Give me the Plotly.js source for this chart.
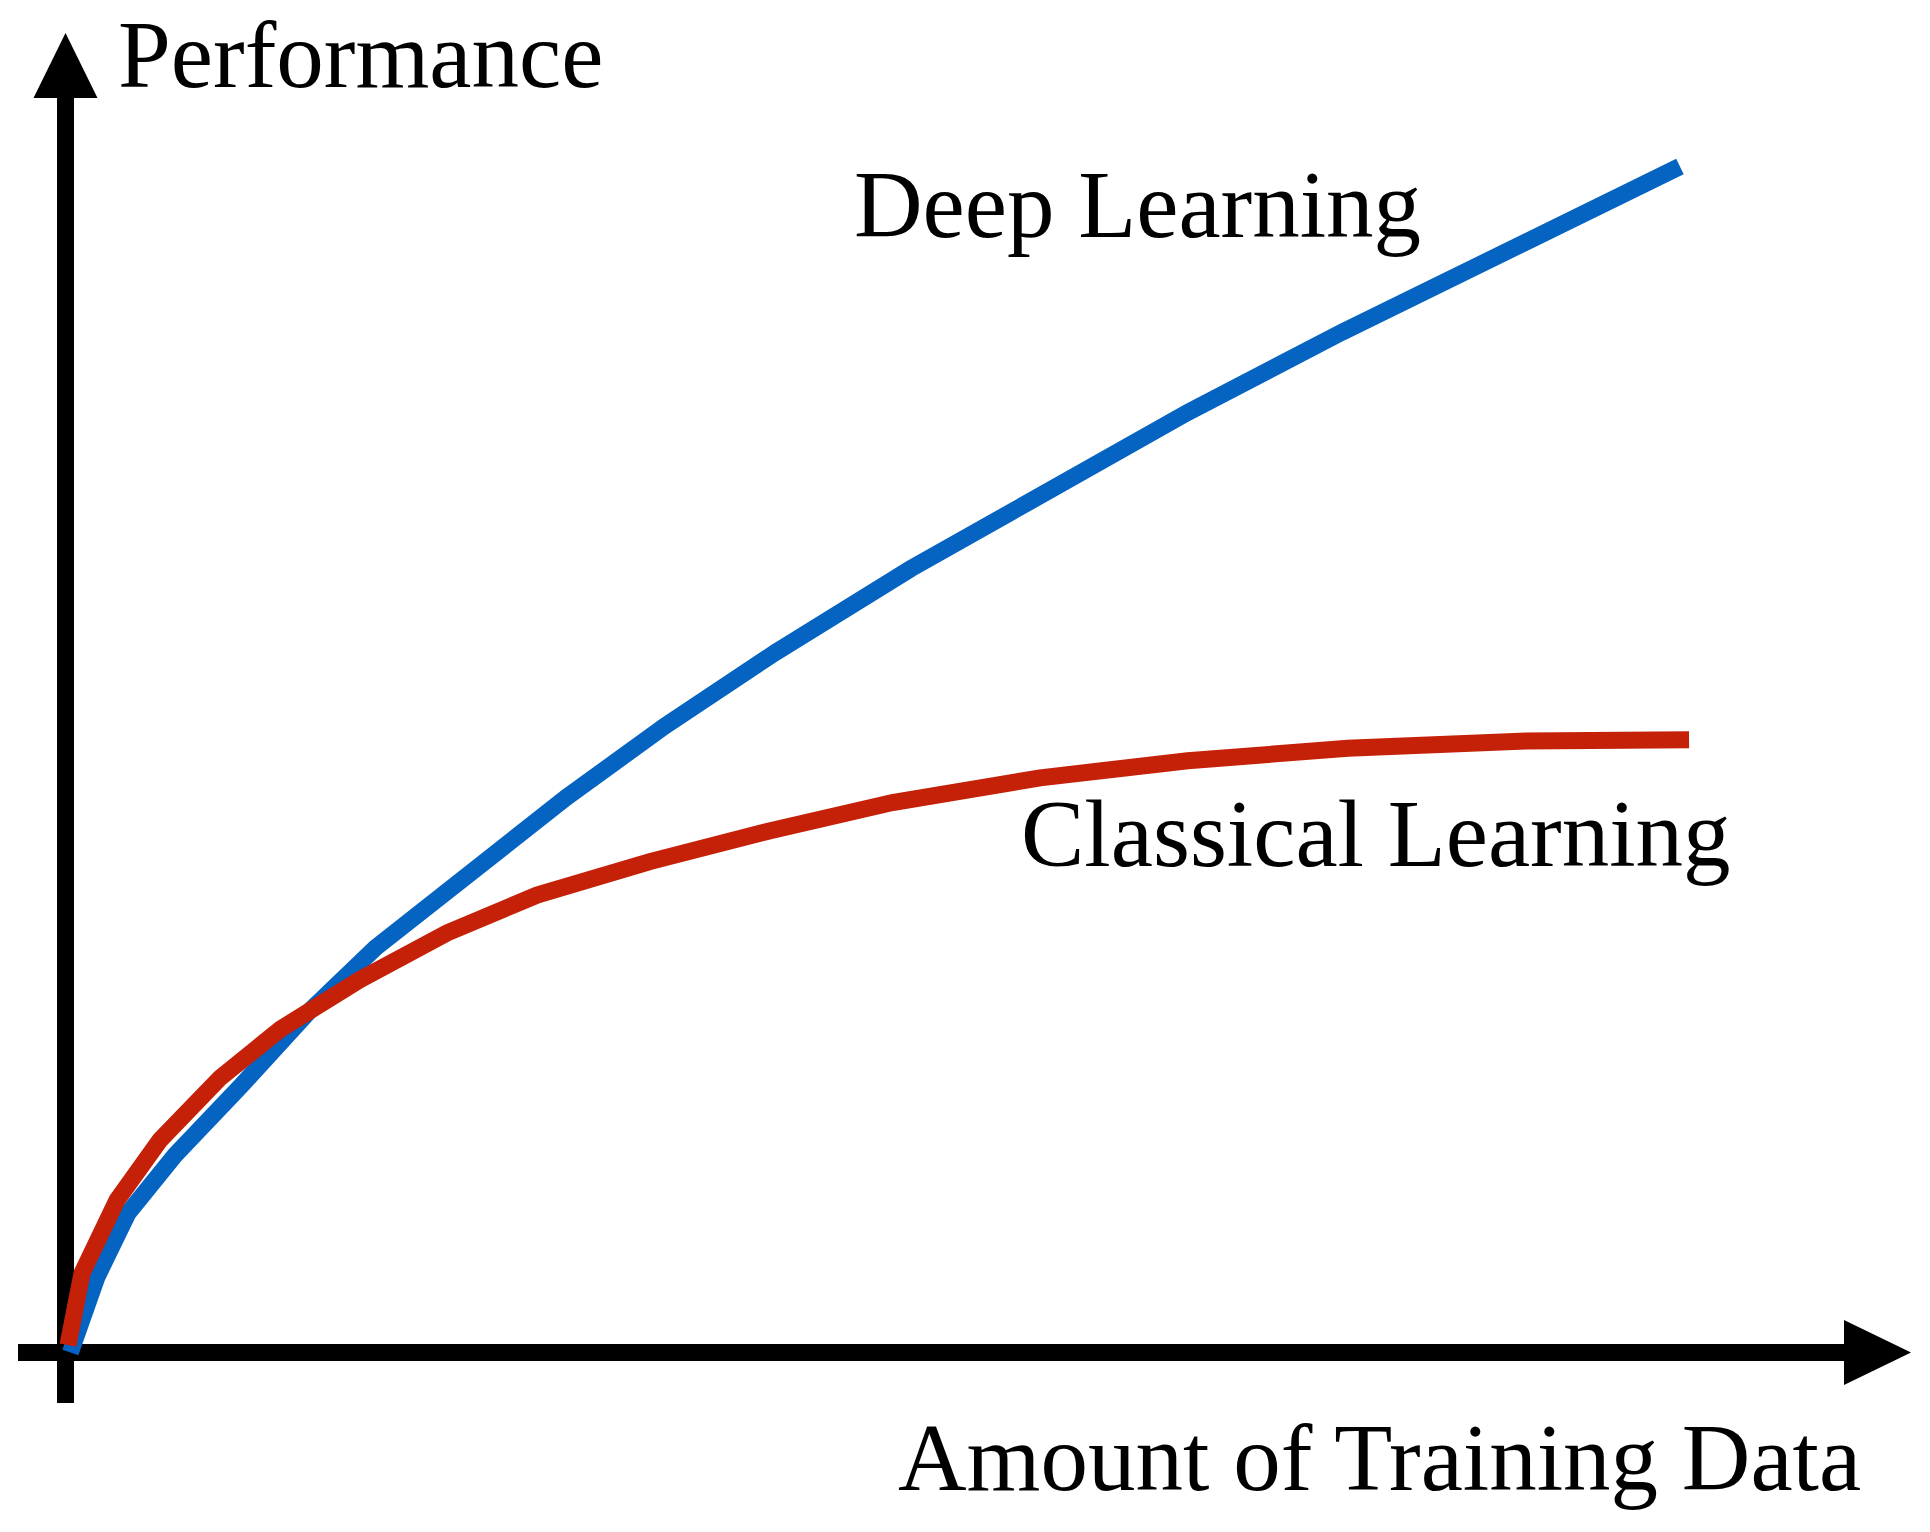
<!DOCTYPE html>
<html>
<head>
<meta charset="utf-8">
<script src="https://cdn.plot.ly/plotly-3.0.1.min.js"></script>
<style>html,body{margin:0;padding:0;background:#fff;}#chart{width:1930px;height:1532px;}</style>
</head>
<body>
<div id="chart"></div>
<script>
// Amount of training data (arbitrary units, 0..100)
const deepX = [0.3, 1.94, 3.85, 6.74, 10.74, 14.90, 19.07, 24.75, 30.81, 36.87, 43.69, 52.02, 60.36, 69.06, 78.54, 89.90, 99.35];
// Deep learning performance (arbitrary units)
const deepY = [0.0, 6.37, 11.76, 16.65, 22.39, 28.63, 34.12, 40.35, 46.79, 52.81, 59.03, 66.09, 72.73, 79.27, 86.02, 93.80, 100.0];
// Classical learning
const classicX = [0.15, 1.02, 3.17, 5.82, 9.51, 13.24, 18.09, 23.48, 29.02, 35.96, 43.31, 50.89, 59.98, 69.06, 78.91, 89.90, 99.91];
const classicY = [0.63, 6.70, 12.86, 17.92, 23.15, 27.28, 31.41, 35.37, 38.57, 41.39, 43.98, 46.37, 48.45, 49.90, 50.94, 51.56, 51.66];

const seriesNames = ["Deep Learning", "Classical Learning"];
const xAxisLabel = "Amount of Training Data";
const yAxisLabel = "Performance";

const W = 1930, H = 1532;
const px = x => x / W;
const py = y => 1 - y / H;
const FONT = "Liberation Serif, Times New Roman, serif";

const traces = [
  {x: deepX, y: deepY, type: "scatter", mode: "lines", name: seriesNames[0],
   line: {color: "#0563C1", width: 17}, hoverinfo: "skip", cliponaxis: false},
  {x: classicX, y: classicY, type: "scatter", mode: "lines", name: seriesNames[1],
   line: {color: "#C42108", width: 17}, hoverinfo: "skip", cliponaxis: false}
];

const shapes = [
  // vertical axis
  {type: "line", xref: "paper", yref: "paper", layer: "below",
   x0: px(65.5), x1: px(65.5), y0: py(1403), y1: py(96),
   line: {color: "#000", width: 17}},
  // horizontal axis
  {type: "line", xref: "paper", yref: "paper", layer: "below",
   x0: px(18), x1: px(1848), y0: py(1352.5), y1: py(1352.5),
   line: {color: "#000", width: 17}},
  // up arrowhead
  {type: "path", xref: "paper", yref: "paper", layer: "below",
   path: `M ${px(33.5)} ${py(98)} L ${px(97.5)} ${py(98)} L ${px(65.5)} ${py(33)} Z`,
   fillcolor: "#000", line: {width: 0}},
  // right arrowhead
  {type: "path", xref: "paper", yref: "paper", layer: "below",
   path: `M ${px(1844)} ${py(1320)} L ${px(1844)} ${py(1385)} L ${px(1911)} ${py(1352.5)} Z`,
   fillcolor: "#000", line: {width: 0}}
];

const fnt = {family: FONT, size: 95, color: "#000"};
const annotations = [
  {text: yAxisLabel, xref: "paper", yref: "paper", x: px(116), y: py(110), xanchor: "left", yanchor: "bottom", showarrow: false, font: fnt},
  {text: seriesNames[0], xref: "paper", yref: "paper", x: px(852), y: py(260), xanchor: "left", yanchor: "bottom", showarrow: false, font: fnt},
  {text: seriesNames[1], xref: "paper", yref: "paper", x: px(1019), y: py(889), xanchor: "left", yanchor: "bottom", showarrow: false, font: fnt},
  {text: xAxisLabel, xref: "paper", yref: "paper", x: px(896), y: py(1513), xanchor: "left", yanchor: "bottom", showarrow: false, font: fnt}
];

const layout = {
  width: W, height: H,
  margin: {l: 0, r: 0, t: 0, b: 0, pad: 0},
  paper_bgcolor: "#fff", plot_bgcolor: "#fff",
  showlegend: false,
  xaxis: {range: [-65.5 / 16.25, (W - 65.5) / 16.25], visible: false, fixedrange: true},
  yaxis: {range: [-(H - 1352.5) / 11.86, 1352.5 / 11.86], visible: false, fixedrange: true},
  shapes: shapes,
  annotations: annotations
};

Plotly.newPlot("chart", traces, layout, {staticPlot: true, displayModeBar: false});
</script>
</body>
</html>
